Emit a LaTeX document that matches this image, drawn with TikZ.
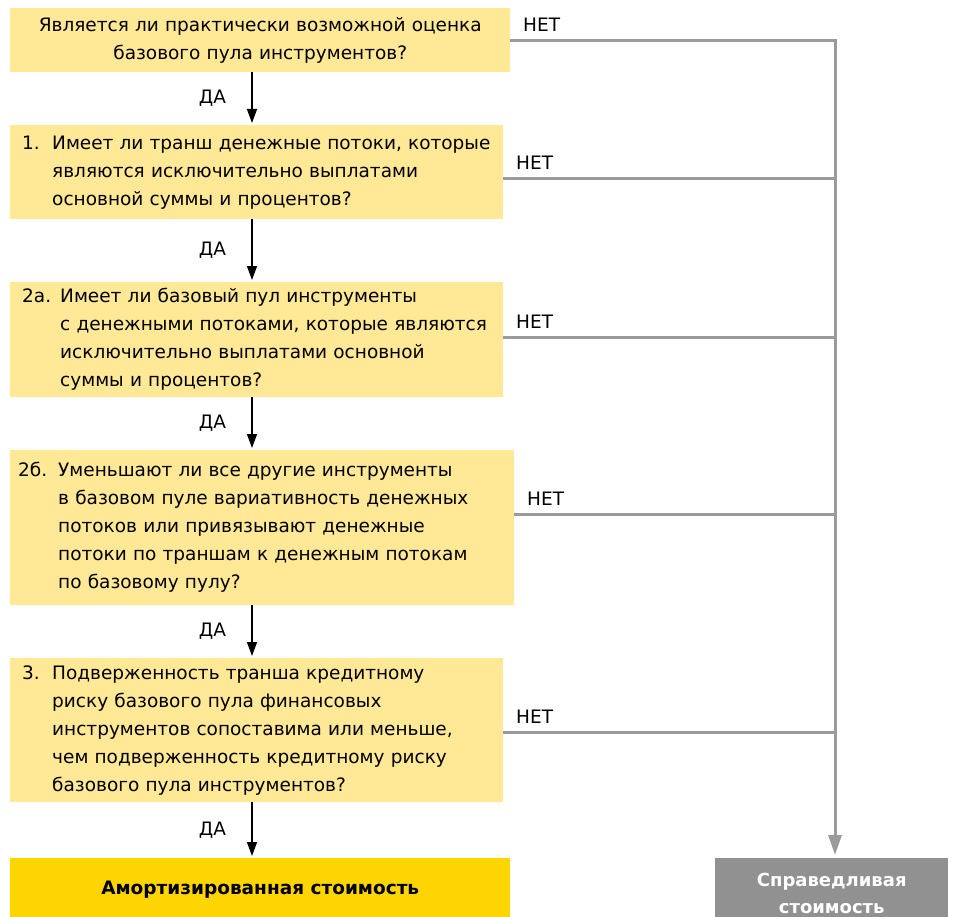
\documentclass[tikz,border=0pt]{standalone}
\usepackage{fontspec}
\setmainfont{DejaVu Sans}
\usetikzlibrary{arrows.meta,positioning}

\definecolor{qyellow}{RGB}{255,232,150}
\definecolor{eygold}{RGB}{255,213,0}
\definecolor{nogray}{RGB}{155,155,155}
\definecolor{fairgray}{RGB}{145,145,145}

\newcommand{\qno}[2][30pt]{\makebox[#1][l]{#2}}

\begin{document}
\begin{tikzpicture}[x=1pt,y=-1pt,
        qbox/.style={fill=qyellow, anchor=north west, align=left, inner xsep=12pt, inner ysep=0pt,
            font=\fontsize{18.5}{28}\selectfont},
        yes/.style={black, line width=1.4pt, -{Triangle[length=14pt,width=10pt]}, shorten >=2pt},
        no/.style={nogray, line width=3pt},
        yeslabel/.style={left=22pt, text=black, font=\fontsize{18.5}{22}\selectfont},
        nolabel/.style={anchor=south west, xshift=8pt, yshift=4pt, text=black, font=\fontsize{18.5}{22}\selectfont}]
        \useasboundingbox (0,0) rectangle (955,917);

        \node[qbox, text width=476pt, minimum height=64pt, align=center] (q0) at (10,8)
            {Является ли практически возможной оценка\\базового пула инструментов?};
        \node[qbox, text width=469pt, minimum height=94pt] (q1) at (10,125)
            {\qno{1.}Имеет ли транш денежные потоки, которые\\
             \qno{}являются исключительно выплатами\\
             \qno{}основной суммы и процентов?};
        \node[qbox, text width=469pt, minimum height=115pt] (q2) at (10,282)
            {\qno[38pt]{2а.}Имеет ли базовый пул инструменты\\
             \qno[38pt]{}с денежными потоками, которые являются\\
             \qno[38pt]{}исключительно выплатами основной\\
             \qno[38pt]{}суммы и процентов?};
        \node[qbox, minimum height=155pt, inner xsep=8pt, text width=488pt] (q3) at (10,450)
            {\qno[40pt]{2б.}Уменьшают ли все другие инструменты\\
             \qno[40pt]{}в базовом пуле вариативность денежных\\
             \qno[40pt]{}потоков или привязывают денежные\\
             \qno[40pt]{}потоки по траншам к денежным потокам\\
             \qno[40pt]{}по базовому пулу?};
        \node[qbox, text width=469pt, minimum height=144pt] (q4) at (10,658)
            {\qno{3.}Подверженность транша кредитному\\
             \qno{}риску базового пула финансовых\\
             \qno{}инструментов сопоставима или меньше,\\
             \qno{}чем подверженность кредитному риску\\
             \qno{}базового пула инструментов?};

        % outcomes
        \node[fill=eygold, anchor=north west, minimum width=500pt, minimum height=62pt,
            font=\bfseries\fontsize{18.5}{22}\selectfont] (amort) at (10,858) {Амортизированная стоимость};
        \node[fill=fairgray, text=white, anchor=north west, minimum width=233pt, minimum height=70pt,
            align=center, inner ysep=8pt, font=\bfseries\fontsize{18}{27}\selectfont] (fair) at (715,858)
            {Справедливая\\стоимость};

        \coordinate (spine) at (252,0);
        \coordinate (fv) at (835,0);

        % ДА
        \draw[yes] (q0.south -| spine) -- (q1.north -| spine) node[midway, yeslabel] {ДА};
        \draw[yes] (q1.south -| spine) -- (q2.north -| spine) node[midway, yeslabel] {ДА};
        \draw[yes] (q2.south -| spine) -- (q3.north -| spine) node[midway, yeslabel] {ДА};
        \draw[yes] (q3.south -| spine) -- (q4.north -| spine) node[midway, yeslabel] {ДА};
        \draw[yes] (q4.south -| spine) -- (amort.north -| spine) node[midway, yeslabel] {ДА};

        % НЕТ
        \draw[no, -{Triangle[length=20pt,width=13pt]}, shorten >=3pt]
            (q0.east) node[nolabel] {НЕТ} -- (q0.east -| fv) -- (fair.north -| fv);
        \draw[no] ([yshift=-6pt]q1.east) node[nolabel] {НЕТ} -- ([yshift=-6pt]q1.east -| fv);
        \draw[no] ([yshift=2pt]q2.east) node[nolabel] {НЕТ} -- ([yshift=2pt]q2.east -| fv);
        \draw[no] ([yshift=13pt]q3.east) node[nolabel] {НЕТ} -- ([yshift=13pt]q3.east -| fv);
        \draw[no] ([yshift=-2pt]q4.east) node[nolabel] {НЕТ} -- ([yshift=-2pt]q4.east -| fv);
\end{tikzpicture}
\end{document}
